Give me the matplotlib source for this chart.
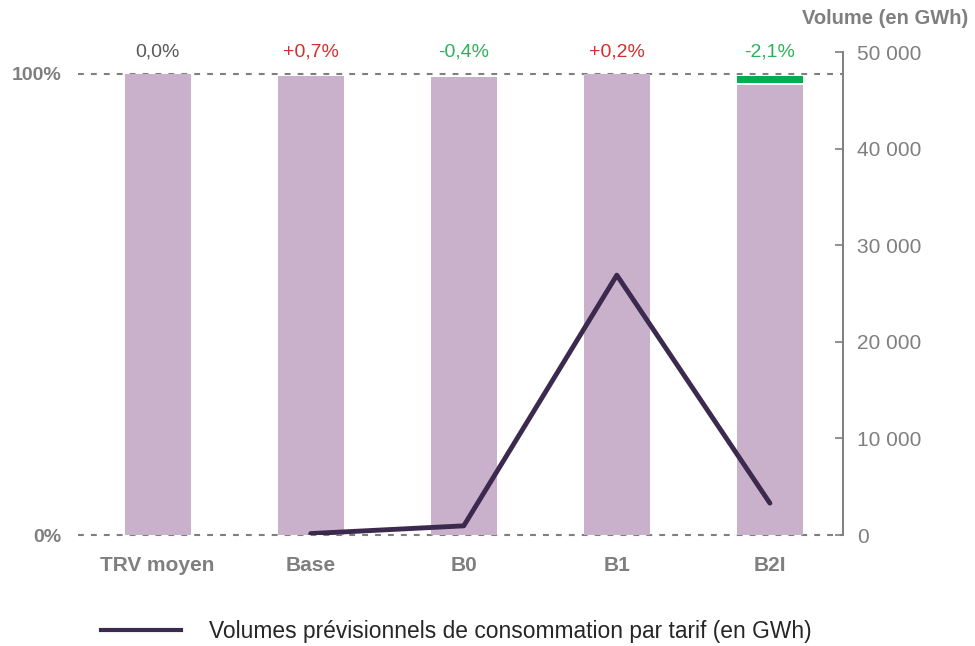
import matplotlib
matplotlib.use("Agg")
import matplotlib.pyplot as plt
from matplotlib.lines import Line2D

plt.rcParams['font.family'] = ['Liberation Sans', 'DejaVu Sans']

categories = ["TRV moyen", "Base", "B0", "B1", "B2I"]
bar_share = [1.000, 0.996, 0.994, 1.000, 0.977]
change_labels = ["0,0%", "+0,7%", "-0,4%", "+0,2%", "-2,1%"]
change_colors = ["#595959", "#d32f2f", "#2bb35a", "#d32f2f", "#2bb35a"]
b2i_green_segment = (0.981, 0.996)
line_cats = ["Base", "B0", "B1", "B2I"]
line_volumes = [150, 950, 26900, 3300]
right_ticks = [0, 10000, 20000, 30000, 40000, 50000]
right_ticklabels = ["0", "10 000", "20 000", "30 000", "40 000", "50 000"]

grey = "#7f7f7f"
bar_color = "#c9b1cb"
line_color = "#3b2a4d"

fig = plt.figure(figsize=(9.75, 6.46), dpi=100)
ax = fig.add_axes([0.08, 0.1718, 0.785, 0.7477])
x = list(range(len(categories)))

# dashed reference lines at 0% and 100%
for yv in (0, 1):
    ax.axhline(yv, color=grey, ls=(0, (2.8, 3.4)), lw=1.5, zorder=1, clip_on=False)

ax.bar(x, bar_share, width=0.43, color=bar_color, zorder=2)
i4 = categories.index("B2I")
ax.bar([i4], [b2i_green_segment[1] - b2i_green_segment[0]], bottom=b2i_green_segment[0],
       width=0.43, color="#00b050", zorder=3)

for xi, lab, col in zip(x, change_labels, change_colors):
    ax.annotate(lab, (xi, 1.0), xytext=(0, 16), textcoords="offset points",
                ha="center", va="center", fontsize=14, color=col)

ax.set_xlim(-0.52, 4.48)
ax.set_ylim(0, 1.0477)
ax.set_yticks([0, 1])
ax.set_yticklabels(["0%", "100%"], fontsize=14, fontweight="bold", color=grey)
ax.tick_params(axis="y", length=0, pad=12)
ax.set_xticks(x)
ax.set_xticklabels(categories, fontsize=15, fontweight="bold", color=grey)
ax.tick_params(axis="x", length=0, pad=15)
for s in ax.spines.values():
    s.set_visible(False)

ax2 = ax.twinx()
lx = [categories.index(c) for c in line_cats]
ax2.plot(lx, line_volumes, color=line_color, lw=3.5, solid_capstyle="round", zorder=5)
ax2.set_ylim(0, 50000)
ax2.set_yticks(right_ticks)
ax2.set_yticklabels(right_ticklabels, fontsize=15, color=grey)
ax2.tick_params(axis="y", direction="in", length=6, width=1.2, color=grey, pad=10)
for k, s in ax2.spines.items():
    s.set_visible(k == "right")
ax2.spines["right"].set_color(grey)
ax2.spines["right"].set_linewidth(1.4)

fig.text(0.993, 0.972, "Volume (en GWh)", ha="right", va="center",
         fontsize=14.5, fontweight="bold", color=grey)

handle = Line2D([0], [0], color=line_color, lw=3)
fig.legend([handle], ["Volumes prévisionnels de consommation par tarif (en GWh)"],
           loc="center", bbox_to_anchor=(0.468, 0.022), frameon=False, fontsize=16.4,
           labelcolor="#262626", handlelength=3.5, handletextpad=1.2)

fig.savefig("out.png", dpi=100)
